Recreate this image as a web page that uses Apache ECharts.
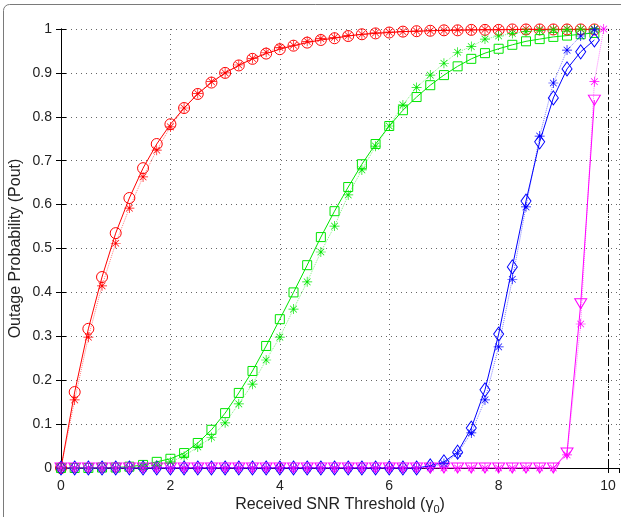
<!DOCTYPE html>
<html>
<head>
<meta charset="utf-8">
<script src="https://cdn.jsdelivr.net/npm/echarts@6/dist/echarts.min.js"></script>
<style>
  html, body { margin: 0; padding: 0; background: #fff; }
  #chart { width: 621px; height: 517px; }
</style>
</head>
<body>
<div id="chart"></div>
<script>
// received SNR threshold (x values)
const snr = [0, 0.25, 0.5, 0.75, 1, 1.25, 1.5, 1.75, 2, 2.25, 2.5, 2.75, 3, 3.25, 3.5, 3.75,
  4, 4.25, 4.5, 4.75, 5, 5.25, 5.5, 5.75, 6, 6.25, 6.5, 6.75, 7, 7.25, 7.5, 7.75,
  8, 8.25, 8.5, 8.75, 9, 9.25, 9.5, 9.75];

// analytical curves (lines with open markers)
const redAna = [0, 0.173, 0.317, 0.435, 0.535, 0.615, 0.683, 0.738, 0.783, 0.82, 0.852, 0.878,
  0.9, 0.917, 0.932, 0.944, 0.954, 0.962, 0.969, 0.975, 0.979, 0.984, 0.988, 0.99, 0.992,
  0.994, 0.995, 0.996, 0.997, 0.997, 0.998, 0.998, 0.998, 0.999, 0.999, 0.999, 0.999, 0.999, 0.999, 0.999];
const greenAna = [0, 0, 0, 0.001, 0.001, 0.003, 0.007, 0.014, 0.021, 0.034, 0.057, 0.087,
  0.125, 0.171, 0.221, 0.278, 0.339, 0.4, 0.462, 0.526, 0.585, 0.64, 0.692, 0.738, 0.779,
  0.815, 0.845, 0.872, 0.895, 0.915, 0.932, 0.945, 0.955, 0.964, 0.972, 0.977, 0.982, 0.985, 0.988, 0.991];
const blueAna = [0, 0, 0, 0, 0, 0, 0, 0, 0, 0, 0, 0, 0, 0, 0, 0, 0, 0, 0, 0, 0, 0, 0, 0, 0, 0, 0,
  0.005, 0.014, 0.036, 0.091, 0.178, 0.305, 0.458, 0.608, 0.743, 0.843, 0.909, 0.948, 0.975];
const magentaAna = [0, 0, 0, 0, 0, 0, 0, 0, 0, 0, 0, 0, 0, 0, 0, 0, 0, 0, 0, 0, 0, 0, 0, 0, 0, 0, 0,
  0, 0, 0, 0, 0, 0, 0, 0, 0, 0, 0.034, 0.374, 0.838];

// simulation points (asterisks)
const redSim = [0, 0.155, 0.298, 0.415, 0.512, 0.592, 0.663, 0.724, 0.777, 0.82, 0.853, 0.88,
  0.9, 0.918, 0.933, 0.947, 0.958, 0.963, 0.972, 0.978, 0.981, 0.985, 0.988, 0.991, 0.993,
  0.994, 0.995, 0.996, 0.997, 0.998, 0.998, 0.999, 0.999, 0.999, 1, 1, 1, 1, 1, 1];
const greenSim = [0, 0, 0, 0, 0, 0.001, 0.003, 0.006, 0.014, 0.027, 0.048, 0.07,
  0.103, 0.146, 0.191, 0.246, 0.298, 0.362, 0.424, 0.492, 0.551, 0.622, 0.679, 0.733, 0.779,
  0.827, 0.867, 0.895, 0.922, 0.947, 0.96, 0.977, 0.984, 0.99, 0.994, 0.997, 0.998, 0.999, 1, 1];
const blueSim = [0, 0, 0, 0, 0, 0, 0, 0, 0, 0, 0, 0, 0, 0, 0, 0, 0, 0, 0, 0, 0, 0, 0, 0, 0, 0, 0,
  0.003, 0.01, 0.033, 0.08, 0.155, 0.276, 0.43, 0.595, 0.756, 0.877, 0.952, 0.984, 0.998];
const magentaSim = [0, 0, 0, 0, 0, 0, 0, 0, 0, 0, 0, 0, 0, 0, 0, 0, 0, 0, 0, 0, 0, 0, 0, 0, 0, 0, 0,
  0, 0, 0, 0, 0, 0, 0, 0, 0, 0, 0.03, 0.328, 0.88];
const magentaSimEnd = [9.92, 1];

const xTicks = [0, 2, 4, 6, 8, 10];
const threshold = 10;

// asterisk marker (+ and x)
const star = 'path://M0 9.3H20V10.7H0Z M9.3 0H10.7V20H9.3Z M2.8 3.8L3.8 2.8L17.2 16.2L16.2 17.2Z M16.2 2.8L17.2 3.8L3.8 17.2L2.8 16.2Z';

const font = 'Liberation Sans, Arial, sans-serif';
const pairs = ys => snr.map((x, i) => [x, ys[i]]);

function ana(ys, color, symbol, size, extra) {
  return Object.assign({
    type: 'line', data: pairs(ys), symbol: symbol, symbolSize: size,
    lineStyle: { color: color, width: 1 },
    itemStyle: { color: 'rgba(0,0,0,0)', borderColor: color, borderWidth: 1 },
    emphasis: { disabled: true }, z: 3
  }, extra || {});
}
function sim(data, color) {
  return {
    type: 'line', data: data, symbol: star, symbolSize: 10,
    lineStyle: { color: color, width: 1, type: 'dotted', opacity: 0.5 },
    itemStyle: { color: color, borderWidth: 0 },
    emphasis: { disabled: true }, z: 4
  };
}

const chart = echarts.init(document.getElementById('chart'));
chart.setOption({
  animation: false,
  grid: { left: 61, right: 2, top: 29, bottom: 49, outerBoundsMode: 'none', containLabel: false },
  graphic: [{
    type: 'rect', z: -10,
    shape: { x: 3.5, y: 4.5, width: 700, height: 600, r: 6 },
    style: { fill: 'none', stroke: '#7a7a7a', lineWidth: 1 }
  }],
  xAxis: [{
    type: 'value', min: 0, max: 10.2, interval: 2,
    name: 'Received SNR Threshold (γ{s|0})', nameLocation: 'middle', nameGap: 27,
    nameMoveOverlap: false,
    nameTextStyle: { color: '#222', fontSize: 16, fontFamily: font,
      rich: { s: { fontSize: 11, fontFamily: font, color: '#222', padding: [9, 0, 0, 0] } } },
    axisLine: { lineStyle: { color: '#000', width: 1 } },
    axisTick: { inside: true, length: 5, lineStyle: { color: '#000' } },
    axisLabel: { color: '#222', fontSize: 14, fontFamily: font, margin: 11, showMaxLabel: false,
      formatter: v => xTicks.indexOf(v) >= 0 ? String(v) : '' },
    splitLine: { show: true, lineStyle: { color: '#666', type: [1, 4], width: 1 } }
  }, {
    type: 'value', position: 'top', min: 0, max: 10.2, interval: 2,
    axisLine: { lineStyle: { color: '#000', width: 1 } },
    axisTick: { inside: true, length: 5, lineStyle: { color: '#000' } },
    axisLabel: { show: false }, splitLine: { show: false }
  }],
  yAxis: [{
    type: 'value', min: 0, max: 1, interval: 0.1,
    name: 'Outage Probability (Pout)', nameLocation: 'middle', nameGap: 37,
    nameMoveOverlap: false,
    nameTextStyle: { color: '#222', fontSize: 16, fontFamily: font },
    axisLine: { lineStyle: { color: '#000', width: 1 } },
    axisTick: { inside: true, length: 5, lineStyle: { color: '#000' } },
    axisLabel: { color: '#222', fontSize: 14, fontFamily: font, margin: 9,
      formatter: v => String(Math.round(v * 10) / 10) },
    splitLine: { show: true, lineStyle: { color: '#666', type: [1, 4], width: 1 } }
  }, {
    type: 'value', position: 'right', min: 0, max: 1, interval: 0.1,
    axisLine: { lineStyle: { color: '#000', width: 1 } },
    axisTick: { inside: true, length: 5, lineStyle: { color: '#000' } },
    axisLabel: { show: false }, splitLine: { show: false }
  }],
  series: [
    ana(redAna, '#ff0000', 'circle', 11, {
      markLine: {
        silent: true, symbol: 'none', label: { show: false },
        lineStyle: { color: '#000', width: 1, type: [9, 3, 2, 3] },
        data: [{ xAxis: threshold }]
      }
    }),
    ana(greenAna, '#00e600', 'rect', 9),
    ana(blueAna, '#0000ff', 'diamond', [10, 14]),
    ana(magentaAna, '#ff00ff', 'triangle', [12, 10], { symbolRotate: 180 }),
    sim(pairs(redSim), '#ff0000'),
    sim(pairs(greenSim), '#00e600'),
    sim(pairs(blueSim), '#0000ff'),
    sim(pairs(magentaSim).concat([magentaSimEnd]), '#ff00ff')
  ]
});
</script>
</body>
</html>
